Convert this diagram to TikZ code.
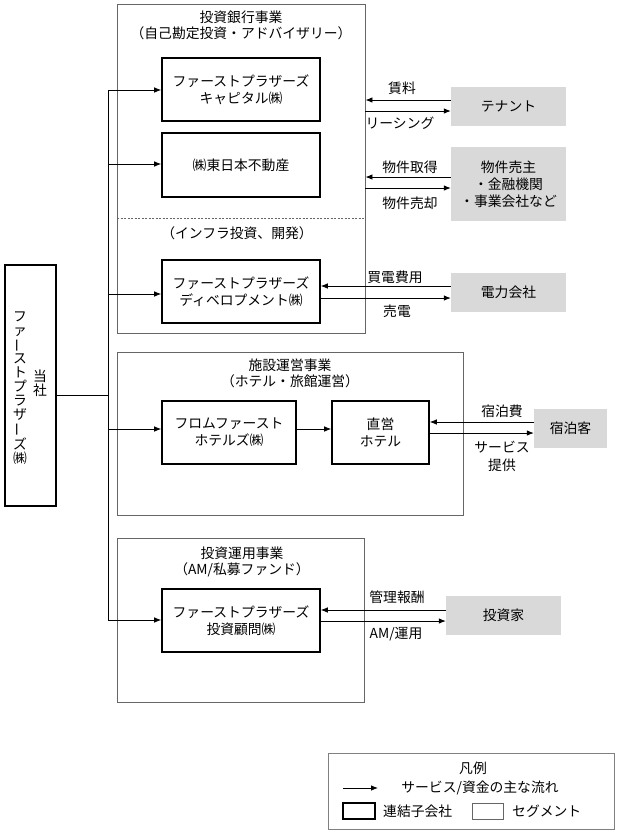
\documentclass[tikz,border=0pt]{standalone}
\usepackage{fontspec}
\usepackage{graphicx}
\setmainfont{Noto Sans CJK JP}
\usetikzlibrary{arrows.meta}
\begin{document}
\begin{tikzpicture}[x=1pt,y=-1pt, font=\fontsize{13.8}{17}\selectfont,
  sub/.style={draw=black, line width=1.6pt, align=center, inner sep=0pt},
  seg/.style={draw=black!60, line width=0.9pt, inner sep=0pt},
  ent/.style={fill=black!15, align=center, inner sep=0pt},
  arr/.style={-{Latex[length=7pt,width=5.5pt]}, line width=0.8pt},
  ln/.style={line width=0.8pt},
  lbl/.style={inner sep=0pt, align=center},
  ttl/.style={inner sep=0pt, align=center, font=\fontsize{13.8}{16}\selectfont},
  vt/.style={inner sep=0pt, align=center, font=\fontsize{13.8}{14}\selectfont}]
\useasboundingbox (0,0) rectangle (620,836);

% parent company
\node[sub, minimum width=51pt, minimum height=241pt] (toosha) at (30.5,385.5) {};
\node[vt] (vt1) at (20,388) {フ\\ァ\\\rotatebox[origin=c]{90}{ー}\\ス\\ト\\プ\\ラ\\ザ\\\rotatebox[origin=c]{90}{ー}\\ズ\\㈱};
\node[vt] (vt2) at (40,383) {当\\社};

% segment 1
\node[seg, minimum width=248pt, minimum height=329pt] (seg1) at (241,168.5) {};
\node[ttl] (seg1t) at (241,25.5) {投資銀行事業\\（自己勘定投資・アドバイザリー）};
\node[sub, minimum width=158pt, minimum height=63pt] (cap) at (241,89.5) {ファーストプラザーズ\\キャピタル㈱};
\node[sub, minimum width=158pt, minimum height=64pt] (hne) at (241,165) {㈱東日本不動産};
\draw[black!60, line width=0.6pt, dash pattern=on 2pt off 1.5pt] (117,218) -- (365,218);
\node[lbl] (infra) at (237,233) {（インフラ投資、開発）};
\node[sub, minimum width=158pt, minimum height=63pt] (dev) at (241,291.5) {ファーストプラザーズ\\ディベロプメント㈱};

\node[ent, minimum width=115pt, minimum height=39pt] (tenant) at (508.5,106.5) {テナント};
\node[ent, minimum width=115pt, minimum height=74pt] (seller) at (508.5,184) {物件売主\\・金融機関\\・事業会社など};
\node[ent, minimum width=115pt, minimum height=39pt] (power) at (508.5,292.5) {電力会社};

\coordinate (y1) at (0,100); \coordinate (y2) at (0,111);
\coordinate (y3) at (0,177); \coordinate (y4) at (0,188);
\coordinate (y5) at (0,286); \coordinate (y6) at (0,298);
\draw[arr] (tenant.west |- y1) -- (seg1.east |- y1);
\draw[arr] (seg1.east |- y2) -- (tenant.west |- y2);
\draw[arr] (seller.west |- y3) -- (seg1.east |- y3);
\draw[arr] (seg1.east |- y4) -- (seller.west |- y4);
\draw[arr] (power.west |- y5) -- (dev.east |- y5);
\draw[arr] (dev.east |- y6) -- (power.west |- y6);
\node[lbl] (l1) at (402,88) {賃料};
\node[lbl] (l2) at (400,123) {リーシング};
\node[lbl] (l3) at (410,167) {物件取得};
\node[lbl] (l4) at (410,203) {物件売却};
\node[lbl] (l5) at (395,277) {買電費用};
\node[lbl] (l6) at (397,311) {売電};

% segment 2
\node[seg, minimum width=346pt, minimum height=163pt] (seg2) at (290,433.5) {};
\node[ttl] (seg2t) at (290,373.5) {施設運営事業\\（ホテル・旅館運営）};
\node[sub, minimum width=134pt, minimum height=63pt] (fromf) at (229,432.5) {フロムファースト\\ホテルズ㈱};
\node[sub, minimum width=97pt, minimum height=63pt] (direct) at (380.5,432.5) {直営\\ホテル};
\node[ent, minimum width=73pt, minimum height=39pt] (guest) at (570.5,428.5) {宿泊客};
\coordinate (h0) at (0,429); \coordinate (h1) at (0,422); \coordinate (h2) at (0,433);
\draw[arr] (fromf.east |- h0) -- (direct.west |- h0);
\draw[arr] (guest.west |- h1) -- (direct.east |- h1);
\draw[arr] (direct.east |- h2) -- (guest.west |- h2);
\node[lbl] (l7) at (502,411) {宿泊費};
\node[lbl, font=\fontsize{13.8}{18}\selectfont] (l8) at (502,456) {サービス\\提供};

% segment 3
\node[seg, minimum width=247pt, minimum height=164pt] (seg3) at (240.5,620) {};
\node[ttl] (seg3t) at (242,561.5) {投資運用事業\\（AM/私募ファンド）};
\node[sub, minimum width=158pt, minimum height=63pt] (adv) at (241,620.5) {ファーストプラザーズ\\投資顧問㈱};
\node[ent, minimum width=115pt, minimum height=39pt] (investor) at (503.5,615.5) {投資家};
\coordinate (i1) at (0,610); \coordinate (i2) at (0,621);
\draw[arr] (investor.west |- i1) -- (adv.east |- i1);
\draw[arr] (adv.east |- i2) -- (investor.west |- i2);
\node[lbl] (l9) at (397,597) {管理報酬};
\node[lbl] (l10) at (396,634) {AM/運用};

% spine
\coordinate (sTop) at (108,90);
\coordinate (sB2) at (108,164);
\coordinate (sB3) at (108,294);
\coordinate (sB4) at (108,429);
\coordinate (sBot) at (108,620);
\coordinate (j) at (108,395);
\draw[ln] (sTop) -- (sBot);
\draw[ln] (toosha.east |- j) -- (j);
\draw[arr] (sTop) -- (cap.west |- sTop);
\draw[arr] (sB2) -- (hne.west |- sB2);
\draw[arr] (sB3) -- (dev.west |- sB3);
\draw[arr] (sB4) -- (fromf.west |- sB4);
\draw[arr] (sBot) -- (adv.west |- sBot);

% legend
\node[draw=black!50, line width=0.6pt, minimum width=286pt, minimum height=76pt, inner sep=0pt] (leg) at (471,791) {};
\node[lbl] (legt) at (473,768) {凡例};
\coordinate (la1) at (343,788); \coordinate (la2) at (378,788);
\draw[arr] (la1) -- (la2);
\node[lbl] (lt1) at (480,788) {サービス/資金の主な流れ};
\node[sub, minimum width=32pt, minimum height=16pt] (lsub) at (359,811) {};
\node[lbl, anchor=west] (lt2) at (383,811) {連結子会社};
\node[seg, minimum width=31pt, minimum height=16pt] (lseg) at (487.5,811) {};
\node[lbl, anchor=west] (lt3) at (512,811) {セグメント};
\end{tikzpicture}
\end{document}
